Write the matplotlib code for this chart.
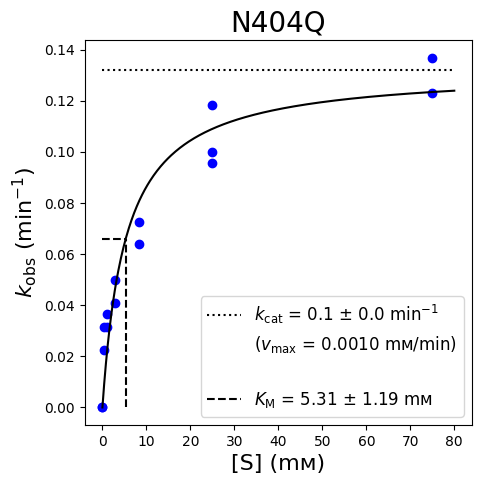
import matplotlib
matplotlib.use("Agg")
import matplotlib.pyplot as plt
import numpy as np

# substrate concentrations (mM) and observed rates (min^-1)
conc = [0, 0, 0.4, 0.4, 1.1, 1.1, 2.9, 2.9, 8.4, 8.4, 25, 25, 25, 75, 75]
kobs = [0.0, 0.0, 0.0226, 0.0316, 0.0316, 0.0365, 0.0409, 0.0499,
        0.0638, 0.0726, 0.1185, 0.1001, 0.0958, 0.1369, 0.1232]

# fitted Michaelis-Menten parameters
kcat = 0.1322
km = 5.31
x_max = 80

mM = "m\u1d0d"

fig, ax = plt.subplots(figsize=(4.82, 4.84), dpi=100)
fig.subplots_adjust(left=0.176, right=0.979, bottom=0.122, top=0.917)

ax.plot(conc, kobs, 'bo')

xs = np.linspace(0, x_max, 400)
ax.plot(xs, kcat * xs / (km + xs), 'k-')

ax.plot([0, x_max], [kcat, kcat], 'k:',
        label=r"$k_{\mathrm{cat}}$ = 0.1 ± 0.0 min$^{-1}$")
ax.plot([], [], ' ', label=r"($v_{\mathrm{max}}$ = 0.0010 " + mM + "/min)")
ax.plot([], [], ' ', label=" ")
ax.plot([km, km], [0, kcat / 2], 'k--',
        label=r"$K_{\mathrm{M}}$ = 5.31 ± 1.19 " + mM)
ax.plot([0, km], [kcat / 2, kcat / 2], 'k--')

ax.set_title("N404Q", fontsize=20)
ax.set_xlabel("[S] (" + mM + ")", fontsize=16)
ax.set_ylabel(r"$k_{\mathrm{obs}}$ (min$^{-1}$)", fontsize=16)
ax.legend(loc='lower right', fontsize=12)

fig.savefig("out.png")
